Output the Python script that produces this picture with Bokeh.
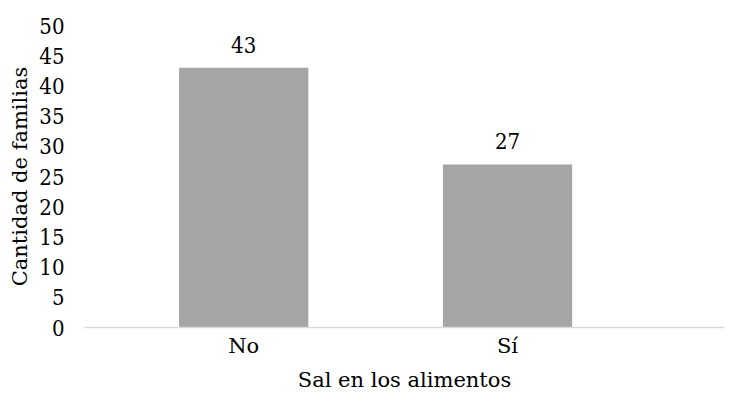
from bokeh.plotting import figure
from bokeh.models import Range1d, ColumnDataSource, FixedTicker
from bokeh.core.properties import value
from bokeh.embed import file_html
from bokeh.resources import INLINE

categories = ["No", "Sí"]
counts = [43, 27]
y_ticks = [0, 5, 10, 15, 20, 25, 30, 35, 40, 45, 50]
x_title = "Sal en los alimentos"
y_title = "Cantidad de familias"

FONT = "DejaVu Serif"
FONT_C = "DejaVu Serif Condensed"
FS = "21px"

xpos = list(range(len(categories)))
src = ColumnDataSource(dict(x=xpos, val=counts, lbl=[str(v) for v in counts]))

p = figure(
    width=719, height=394,
    x_range=Range1d(-0.6035, 1.8225),
    y_range=Range1d(0, 50),
    output_backend="svg", toolbar_location=None,
    min_border_left=76, min_border_right=0, min_border_top=25, min_border_bottom=0,
)
p.margin = (0, 0, 0, 5)
p.outline_line_color = None
p.background_fill_color = "white"
p.border_fill_color = "white"
p.xgrid.visible = False
p.ygrid.visible = False

p.vbar(x="x", top="val", width=0.49, source=src, fill_color="#A5A5A5", line_color=None)
p.text(x="x", y="val", text="lbl", source=src, text_align="center",
       text_baseline="alphabetic", y_offset=-23, text_font=value(FONT_C),
       text_font_size="22px", text_color="#000000")

p.yaxis.ticker = FixedTicker(ticks=y_ticks)
p.yaxis.axis_line_color = None
p.yaxis.major_tick_line_color = None
p.yaxis.minor_tick_line_color = None
p.yaxis.major_label_text_font = FONT_C
p.yaxis.major_label_text_font_size = "22px"
p.yaxis.major_label_text_color = "#000000"
p.yaxis.major_label_standoff = 14
p.yaxis.axis_label = y_title
p.yaxis.axis_label_text_font = FONT
p.yaxis.axis_label_text_font_size = FS
p.yaxis.axis_label_text_font_style = "normal"
p.yaxis.axis_label_text_color = "#000000"
p.yaxis.axis_label_standoff = 4

p.xaxis.ticker = FixedTicker(ticks=xpos)
p.xaxis.major_label_overrides = {i: c for i, c in zip(xpos, categories)}
p.xaxis.axis_line_color = "#D9D9D9"
p.xaxis.axis_line_width = 1.5
p.xaxis.major_tick_line_color = None
p.xaxis.minor_tick_line_color = None
p.xaxis.major_label_text_font = FONT
p.xaxis.major_label_text_font_size = FS
p.xaxis.major_label_text_color = "#000000"
p.xaxis.major_label_standoff = 0
p.xaxis.axis_label = x_title
p.xaxis.axis_label_text_font = FONT
p.xaxis.axis_label_text_font_size = FS
p.xaxis.axis_label_text_font_style = "normal"
p.xaxis.axis_label_text_color = "#000000"
p.xaxis.axis_label_standoff = 7

open("out.html", "w").write(file_html(p, INLINE))
